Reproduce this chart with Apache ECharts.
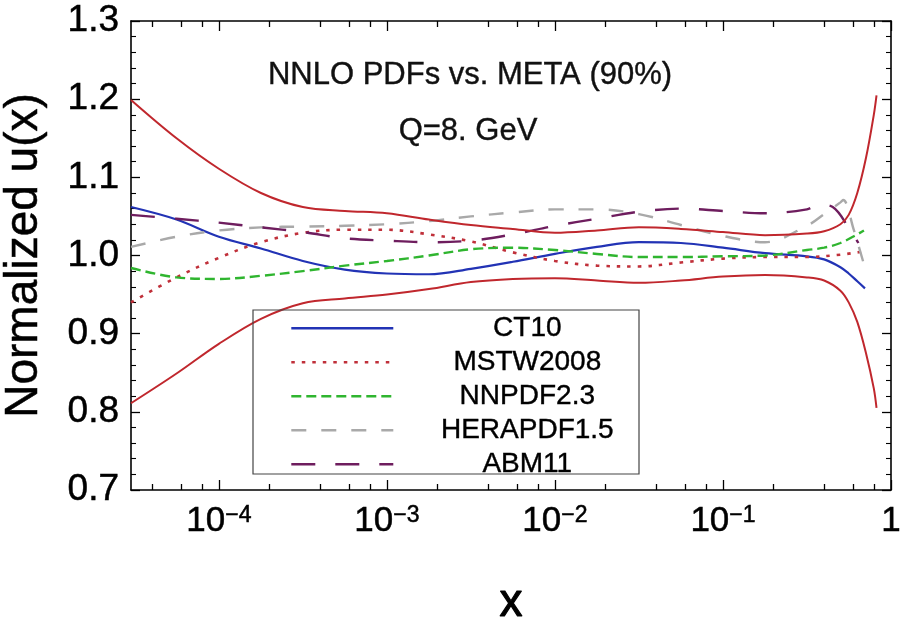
<!DOCTYPE html>
<html>
<head>
<meta charset="utf-8">
<script src="https://cdn.jsdelivr.net/npm/echarts@6/dist/echarts.min.js"></script>
<style>
html,body{margin:0;padding:0;background:#fff;}
#chart{width:901px;height:629px;}
</style>
</head>
<body>
<div id="chart"></div>
<script>
// ---- data ----
const xBase = [3e-5, 5.6e-5, 1e-4, 1.78e-4, 3.16e-4, 5.62e-4, 1e-3, 1.78e-3, 3.16e-3, 5.62e-3, 0.01, 0.0178, 0.0316, 0.0562, 0.1, 0.178, 0.316];

const metaUpperX = xBase.concat([0.4, 0.5, 0.56, 0.63, 0.71, 0.79, 0.82]);
const metaUpperY = [1.199, 1.150, 1.111, 1.080, 1.062, 1.057, 1.054, 1.046, 1.039, 1.034, 1.029, 1.032, 1.036, 1.034, 1.030, 1.026, 1.028,
                    1.031, 1.040, 1.052, 1.080, 1.125, 1.180, 1.205];

const metaLowerX = xBase.concat([0.4, 0.5, 0.56, 0.63, 0.71, 0.79, 0.82]);
const metaLowerY = [0.811, 0.849, 0.887, 0.919, 0.939, 0.945, 0.950, 0.957, 0.966, 0.970, 0.971, 0.968, 0.965, 0.968, 0.973, 0.975, 0.972,
                    0.968, 0.955, 0.940, 0.915, 0.875, 0.830, 0.805];

const ct10X = xBase.concat([0.4, 0.5, 0.56, 0.63, 0.70]);
const ct10Y = [1.062, 1.046, 1.024, 1.009, 0.993, 0.982, 0.977, 0.976, 0.983, 0.992, 1.002, 1.011, 1.017, 1.016, 1.010, 1.003, 0.999,
               0.995, 0.985, 0.977, 0.967, 0.958];

const mstwX = xBase.concat([0.5, 0.63, 0.69]);
const mstwY = [0.940, 0.972, 0.997, 1.017, 1.029, 1.033, 1.033, 1.027, 1.018, 1.004, 0.993, 0.987, 0.986, 0.991, 0.996, 0.998, 0.998,
               1.001, 1.004, 1.005];

const nnpdfX = xBase.concat([0.4, 0.5, 0.63, 0.69]);
const nnpdfY = [0.984, 0.972, 0.970, 0.974, 0.980, 0.987, 0.993, 1.000, 1.008, 1.010, 1.007, 1.002, 0.998, 0.998, 0.999, 1.000, 1.007,
                1.010, 1.016, 1.027, 1.032];

const heraX = xBase.concat([0.4, 0.5, 0.52, 0.6, 0.70]);
const heraY = [1.011, 1.024, 1.032, 1.036, 1.037, 1.038, 1.040, 1.044, 1.050, 1.055, 1.059, 1.059, 1.053, 1.039, 1.025, 1.017, 1.038,
               1.053, 1.068, 1.071, 1.033, 0.984];

const abmX = xBase.concat([0.37, 0.45, 0.57, 0.64]);
const abmY = [1.052, 1.047, 1.042, 1.036, 1.030, 1.022, 1.019, 1.017, 1.019, 1.027, 1.038, 1.047, 1.056, 1.060, 1.057, 1.054, 1.059,
              1.065, 1.062, 1.033, 1.016];

const seriesNames = ['CT10', 'MSTW2008', 'NNPDF2.3', 'HERAPDF1.5', 'ABM11'];
const xMajorTicks = [1e-4, 1e-3, 1e-2, 1e-1, 1];
const xMinorTicks = [4e-5, 6e-5, 8e-5, 2e-4, 4e-4, 6e-4, 8e-4, 2e-3, 4e-3, 6e-3, 8e-3, 2e-2, 4e-2, 6e-2, 8e-2, 0.2, 0.4, 0.6, 0.8];
const titleLine1 = 'NNLO PDFs vs. META (90%)';
const titleLine2 = 'Q=8. GeV';

// ---- chart ----
const pairs = (xs, ys) => xs.map((x, i) => [x, ys[i]]);
const FONT = 'Liberation Sans, Arial, Helvetica, sans-serif';
const frameLine = {color: '#000', width: 1.6};
const heavy = {textBorderColor: '#000', textBorderWidth: 0.5};

function xAxisDef(pos, ticks, len, showLine, showLabel) {
  return {
    type: 'log', logBase: 10, min: 3e-5, max: 1, position: pos, gridIndex: 0,
    axisLine: {show: showLine, lineStyle: frameLine},
    axisTick: {show: true, inside: true, length: len, customValues: ticks, lineStyle: {color: '#000', width: 1.3}},
    minorTick: {show: false},
    splitLine: {show: false},
    axisLabel: showLabel ? {
      show: true, customValues: xMajorTicks, margin: 14,
      formatter: function (v) {
        const e = Math.round(Math.log10(v));
        if (e === 0) return '{b|1}';
        return '{b|10}{s|\u2212' + Math.abs(e) + '}';
      },
      rich: {
        b: Object.assign({fontSize: 35, fontFamily: FONT, color: '#000'}, heavy),
        s: Object.assign({fontSize: 23, fontFamily: FONT, color: '#000', verticalAlign: 'top'}, heavy)
      }
    } : {show: false}
  };
}

function yAxisDef(pos, showLabel) {
  return {
    type: 'value', min: 0.7, max: 1.3, interval: 0.1, position: pos,
    axisLine: {show: true, onZero: false, lineStyle: frameLine},
    axisTick: {show: true, inside: true, length: 9, lineStyle: {color: '#000', width: 1.3}},
    minorTick: {show: true, splitNumber: 5, length: 5, lineStyle: {color: '#000', width: 1.1}},
    splitLine: {show: false},
    axisLabel: showLabel ? Object.assign({show: true, margin: 12, fontSize: 37, fontFamily: FONT, color: '#000',
      formatter: v => v.toFixed(1)}, heavy) : {show: false},
    name: showLabel ? 'Normalized u(x)' : '',
    nameLocation: 'middle', nameGap: 84,
    nameTextStyle: Object.assign({fontSize: 46, fontFamily: FONT, color: '#000'}, heavy)
  };
}

const xAxes = [
  Object.assign(xAxisDef('bottom', xMajorTicks, 10, true, true), {
    name: 'x', nameLocation: 'middle', nameGap: 90,
    nameTextStyle: Object.assign({fontSize: 46, fontFamily: FONT, color: '#000'}, {textBorderColor: '#000', textBorderWidth: 1.2})
  }),
  xAxisDef('bottom', xMinorTicks, 6, false, false),
  xAxisDef('top', xMajorTicks, 10, true, false),
  xAxisDef('top', xMinorTicks, 6, false, false)
];

function lineSeries(name, xs, ys, color, type, width) {
  return {
    name: name, type: 'line', xAxisIndex: 0, yAxisIndex: 0,
    data: pairs(xs, ys), smooth: 0.35, symbol: 'none', silent: true,
    lineStyle: {color: color, width: width || 2, type: type, cap: 'butt'},
    itemStyle: {color: color},
    emphasis: {disabled: true}
  };
}

const option = {
  animation: false,
  backgroundColor: '#fff',
  grid: {left: 131, right: 10, top: 21, bottom: 139, containLabel: false, outerBoundsMode: 'none'},
  xAxis: xAxes,
  yAxis: [yAxisDef('left', true), yAxisDef('right', false)],
  legend: {
    show: true,
    data: seriesNames,
    orient: 'vertical', left: 285, top: 309,
    itemWidth: 102, itemHeight: 26, itemGap: 5.6,
    selectedMode: false,
    itemStyle: {opacity: 0},
    lineStyle: {width: 2.6},
    formatter: n => '{t|' + n + '}',
    textStyle: {fontSize: 28, fontFamily: FONT, color: '#000',
      rich: {t: Object.assign({fontSize: 28, fontFamily: FONT, color: '#000', width: 258, align: 'center'}, {textBorderColor: '#000', textBorderWidth: 0.4})}}
  },
  graphic: [
    {type: 'rect', shape: {x: 253, y: 310, width: 386, height: 164}, z: 5,
     style: {fill: 'none', stroke: '#444', lineWidth: 1.2}},
    {type: 'text', x: 470, y: 75, z: 10,
     style: {text: titleLine1, font: '31px ' + FONT, fill: '#111', textAlign: 'center', textVerticalAlign: 'middle', stroke: '#111', lineWidth: 0.4}},
    {type: 'text', x: 468, y: 131, z: 10,
     style: {text: titleLine2, font: '31px ' + FONT, fill: '#111', textAlign: 'center', textVerticalAlign: 'middle', stroke: '#111', lineWidth: 0.4}}
  ],
  series: [
    lineSeries('CT10', ct10X, ct10Y, '#2233b5', 'solid', 2.2),
    lineSeries('MSTW2008', mstwX, mstwY, '#c0303a', [3.5, 7], 2.6),
    lineSeries('NNPDF2.3', nnpdfX, nnpdfY, '#2fb52f', [10, 5], 2.4),
    lineSeries('HERAPDF1.5', heraX, heraY, '#a9a9a9', [15, 15], 2.4),
    lineSeries('ABM11', abmX, abmY, '#6e1d5e', [24, 20], 2.4),
    lineSeries('META upper', metaUpperX, metaUpperY, '#c0272d', 'solid', 2),
    lineSeries('META lower', metaLowerX, metaLowerY, '#c0272d', 'solid', 2)
  ]
};

const chart = echarts.init(document.getElementById('chart'), null, {renderer: 'canvas'});
chart.setOption(option);
</script>
</body>
</html>
